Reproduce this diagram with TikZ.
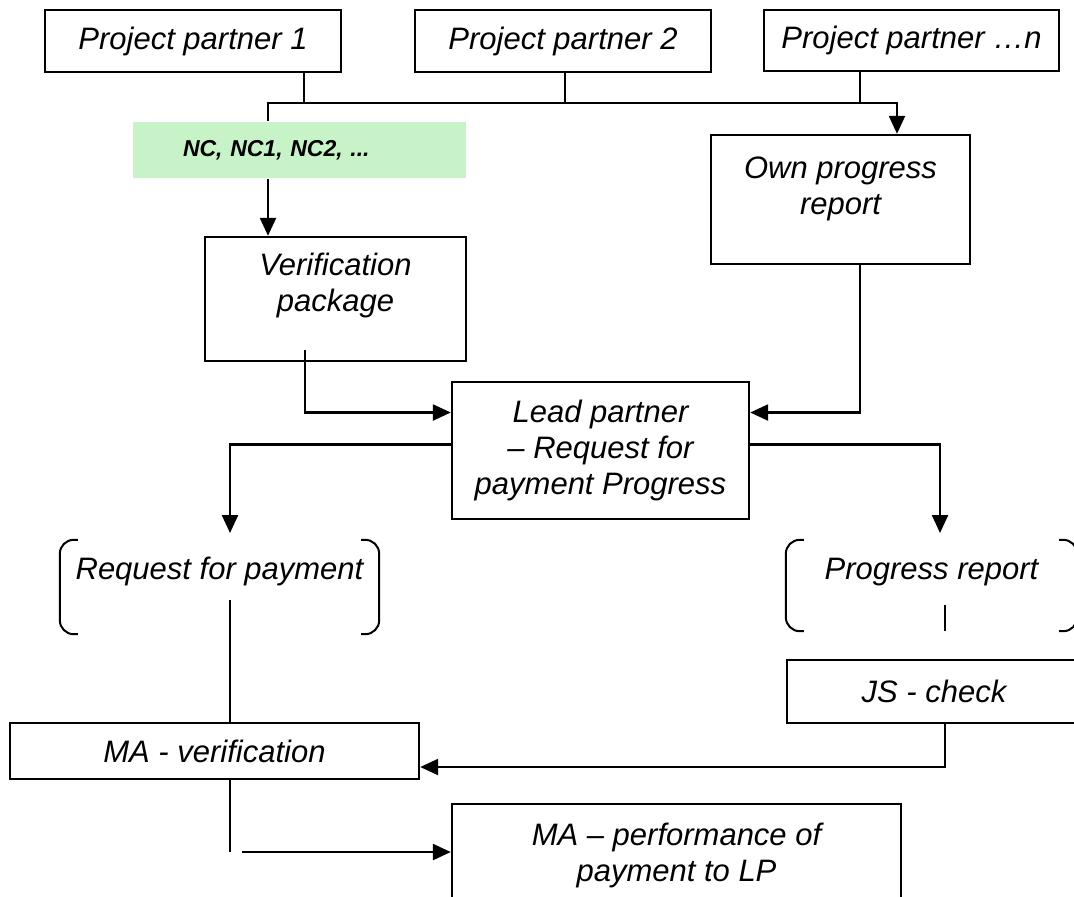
\documentclass[tikz,border=0pt]{standalone}
\usepackage{fontspec}
\setmainfont{Liberation Sans}
\usetikzlibrary{arrows.meta}
\definecolor{ncgreen}{RGB}{200,243,200}

\begin{document}
\begin{tikzpicture}[x=0.5pt,y=-0.5pt,line width=1.2pt,
      >={Triangle[length=9pt,width=8pt]},
      every node/.style={font=\fontsize{15.5}{18}\selectfont\itshape,align=center},
      box/.style={draw,inner sep=0pt},
      brk/.style={inner sep=0pt},
      bracket/.style={line width=1pt,rounded corners=7pt}]
      \useasboundingbox (0,0) rectangle (1074,896);
      \node[box,minimum width=148pt,minimum height=31pt] (pp1) at (193,41) {Project partner 1};
      \node[box,minimum width=148pt,minimum height=31pt] (pp2) at (563,41) {Project partner 2};
      \node[box,minimum width=147.5pt,minimum height=30.5pt] (ppn) at (911.5,40.5) {Project partner …n};
      \node[fill=ncgreen,inner xsep=25pt,inner ysep=0pt,text width=116.5pt,align=left,minimum height=28pt,
            font=\fontsize{11.5}{14}\selectfont\bfseries\itshape] (nc) at (299.5,150) {NC, NC1, NC2, ...};
      \node[box,minimum width=130.5pt,minimum height=62pt,text depth=16.8pt] (verif) at (335.5,299) {Verification\\package};
      \node[box,minimum width=129.5pt,minimum height=64.5pt,text depth=14.3pt] (own) at (840.5,199.5) {Own progress\\report};
      \node[box,minimum width=148.5pt,minimum height=68.5pt] (lead) at (600.5,450.5) {Lead partner\\– Request for\\payment Progress};
      \node[brk,minimum width=158.5pt,minimum height=46pt,text depth=18.3pt] (rfp) at (219.5,587) {Request for payment};
      \node[brk,minimum width=144.5pt,minimum height=44.5pt,text depth=16.8pt] (prog) at (931.5,585.5) {Progress report};
      \node[box,minimum width=147pt,minimum height=31.5pt] (js) at (934,691.5) {JS - check};
      \node[box,minimum width=204.5pt,minimum height=28pt] (mav) at (214.5,751) {MA - verification};
      \node[box,minimum width=224.5pt,minimum height=51pt] (map) at (676.5,855) {MA – performance of\\payment to LP};

      \draw[bracket] ([xshift=9pt]rfp.north west) -- (rfp.north west) -- (rfp.south west) -- ([xshift=9pt]rfp.south west);
      \draw[bracket] ([xshift=-9pt]rfp.north east) -- (rfp.north east) -- (rfp.south east) -- ([xshift=-9pt]rfp.south east);
      \draw[bracket] ([xshift=9pt]prog.north west) -- (prog.north west) -- (prog.south west) -- ([xshift=9pt]prog.south west);
      \draw[bracket] ([xshift=-9pt]prog.north east) -- (prog.north east) -- (prog.south east) -- ([xshift=-9pt]prog.south east);

      \coordinate (b1) at (304,103);
      \coordinate (b2) at (565,103);
      \coordinate (b3) at (860,103);
      \coordinate (busL) at (268,103);
      \coordinate (busR) at (897,103);
      \coordinate (v1) at (305,350);
      \coordinate (d1) at (230,533);
      \coordinate (d2) at (940,533);
      \coordinate (r1) at (230,600);
      \coordinate (p1) at (945,605);
      \coordinate (m1) at (230,852);
      \coordinate (m2) at (242,852);

      \draw (pp1.south -| b1) -- (b1);
      \draw (pp2.south -| b2) -- (b2);
      \draw (ppn.south -| b3) -- (b3);
      \draw[->] (nc.north -| busL) -- (busL) -- (busR) -- (own.north -| busR);
      \draw[->] (nc.south -| busL) -- (verif.north -| busL);
      \draw[->] (v1) |- ([yshift=19pt]lead.west);
      \draw[->] (own.south -| b3) |- ([yshift=19pt]lead.east);
      \draw[->] ([yshift=3pt]lead.west) -| (d1);
      \draw[->] ([yshift=3pt]lead.east) -| (d2);
      \draw (r1) -- (mav.north -| r1);
      \draw (p1) -- (prog.south -| p1);
      \draw[->] (js.south -| p1) |- ([yshift=-8pt]mav.east);
      \draw (mav.south -| r1) -- (m1);
      \draw[->] (m2) -- (map.west |- m2);
\end{tikzpicture}
\end{document}
